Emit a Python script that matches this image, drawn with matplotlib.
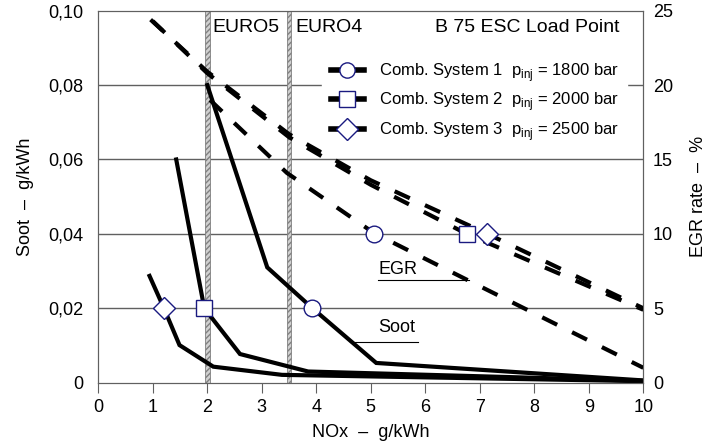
import numpy as np
import matplotlib.pyplot as plt
from matplotlib.lines import Line2D

plt.rcParams['font.family'] = ['Liberation Sans', 'DejaVu Sans']
plt.rcParams['font.size'] = 13

# soot curves (g/kWh) over NOx (g/kWh)
nox_soot1 = [2.0, 3.1, 3.93, 5.1, 10.0]
soot1 = [0.080, 0.031, 0.020, 0.0053, 0.0006]
nox_soot2 = [1.43, 1.945, 2.6, 3.85, 10.0]
soot2 = [0.060, 0.020, 0.0077, 0.003, 0.0005]
nox_soot3 = [0.94, 1.205, 1.49, 2.11, 3.37, 10.0]
soot3 = [0.0287, 0.020, 0.0101, 0.0043, 0.0021, 0.0004]

# EGR rate curves (%)
nox_egr1 = [2.05, 3.46, 5.06, 6.8, 10.0]
egr1 = [19.0, 14.1, 10.05, 6.85, 1.0]
nox_egr2 = [1.0, 2.0, 3.5, 5.0, 6.76, 10.0]
egr2 = [24.3, 20.8, 16.5, 13.3, 10.0, 4.9]
nox_egr3 = [0.96, 2.0, 3.5, 5.0, 7.14, 10.0]
egr3 = [24.4, 20.9, 16.7, 13.6, 10.0, 5.0]

# marker points
mark_nox_soot = [3.93, 1.945, 1.205]
mark_nox_egr = [5.06, 6.76, 7.14]
markers = ['o', 's', 'D']
msizes = [12, 11.5, 11]
labels = ['Comb. System 1  p$_\\mathregular{inj}$ = 1800 bar',
          'Comb. System 2  p$_\\mathregular{inj}$ = 2000 bar',
          'Comb. System 3  p$_\\mathregular{inj}$ = 2500 bar']

xticks = np.arange(0, 11, 1)
yticks = [0, 0.02, 0.04, 0.06, 0.08, 0.10]
yticklabels = ['0', '0,02', '0,04', '0,06', '0,08', '0,10']
egr_ticks = [0, 5, 10, 15, 20, 25]

navy = '#1a1a80'
spine_col = '#606060'

fig = plt.figure(figsize=(7.2, 4.46), dpi=100)
ax = fig.add_axes([0.1365, 0.142, 0.757, 0.834])
ax.set_xlim(0, 10)
ax.set_ylim(0, 0.10)
ax.set_xticks(xticks)
ax.set_yticks(yticks)
ax.set_yticklabels(yticklabels)
for v in yticks[1:-1]:
    ax.axhline(v, color=spine_col, lw=1, zorder=1)
ax.tick_params(axis='y', length=0, pad=11)
ax.tick_params(axis='x', length=7.5, direction='out', color=spine_col, pad=4)
for s in ax.spines.values():
    s.set_color(spine_col)

# EURO limits
for lo, hi in [(1.955, 2.045), (3.455, 3.545)]:
    ax.axvspan(lo, hi, facecolor='#d0d0d0', edgecolor='#808080', hatch='//////', lw=0.6, zorder=2)
ax.text(2.09, 0.0954, 'EURO5', va='center', ha='left', fontsize=14)
ax.text(3.62, 0.0954, 'EURO4', va='center', ha='left', fontsize=14)
ax.text(9.57, 0.0954, 'B 75 ESC Load Point', va='center', ha='right', fontsize=14)

# soot curves
for xs, ys in [(nox_soot1, soot1), (nox_soot2, soot2), (nox_soot3, soot3)]:
    ax.plot(xs, ys, color='black', lw=3, solid_joinstyle='miter', zorder=3)

ax2 = ax.twinx()
ax2.set_ylim(0, 25)
ax2.set_yticks(egr_ticks)
ax2.tick_params(axis='y', length=0, pad=7)
for s in ax2.spines.values():
    s.set_color(spine_col)

for xs, ys in [(nox_egr1, egr1), (nox_egr2, egr2), (nox_egr3, egr3)]:
    ax2.plot(xs, ys, color='black', lw=3, ls=(0, (4, 4)), zorder=3)

# markers on soot (at 0,02) and EGR (at 10 %)
for i in range(3):
    ax.plot(mark_nox_soot[i], 0.02, marker=markers[i], ms=msizes[i], mfc='white',
            mec=navy, mew=1, ls='none', zorder=5)
    ax2.plot(mark_nox_egr[i], 10, marker=markers[i], ms=msizes[i], mfc='white',
             mec=navy, mew=1, ls='none', zorder=5)

# curve labels with leader lines
ax.text(5.13, 0.0148, 'Soot', va='center', ha='left')
ax.plot([4.62, 5.87], [0.011, 0.011], color='black', lw=0.8)
ax2.text(5.14, 7.6, 'EGR', va='center', ha='left')
ax2.plot([5.14, 6.8], [6.9, 6.9], color='black', lw=0.8)

handles = [Line2D([0], [0], color='black', lw=4, marker=markers[i], ms=11,
                  mfc='white', mec=navy, mew=1) for i in range(3)]
leg = ax2.legend(handles, labels, loc='center left', bbox_to_anchor=(0.411, 0.755),
                 frameon=True, fancybox=False, edgecolor='white', facecolor='white',
                 framealpha=1, handlelength=2.0, labelspacing=0.4, borderpad=0.5,
                 handletextpad=0.9, fontsize=12, borderaxespad=0)
leg.set_zorder(6)

ax.set_xlabel('NOx  \u2013  g/kWh', labelpad=6)
ax.set_ylabel('Soot  \u2013  g/kWh', labelpad=10)
ax2.set_ylabel('EGR rate  \u2013  %', labelpad=12)

fig.savefig('out.png', dpi=100)
